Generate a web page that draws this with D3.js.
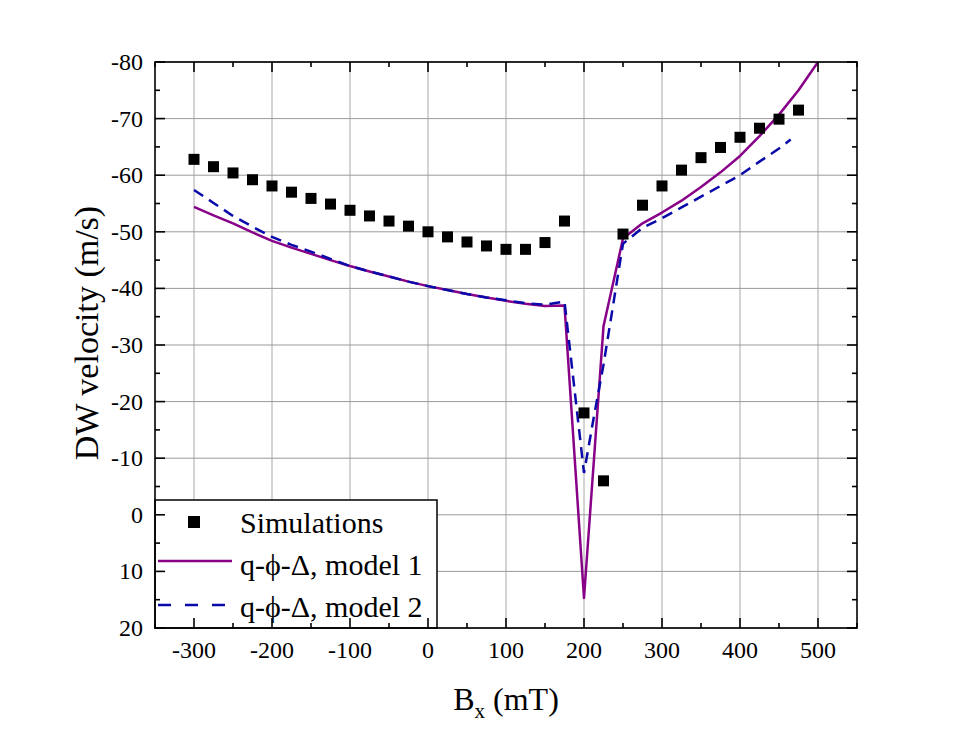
<!DOCTYPE html>
<html>
<head>
<meta charset="utf-8">
<script src="https://cdn.jsdelivr.net/npm/d3@7"></script>
<style>
  body { margin: 0; background: #fff; }
  text, tspan { font-family: "Liberation Serif", "Times New Roman", serif; }
</style>
</head>
<body>
<div id="chart"></div>
<script>
// Simulation points (Bx in mT, velocity in m/s)
const simX = [-300, -275, -250, -225, -200, -175, -150, -125, -100, -75, -50, -25, 0,
  25, 50, 75, 100, 125, 150, 175, 200, 225, 250, 275, 300, 325, 350, 375, 400, 425, 450, 475];
const simV = [-62.8, -61.5, -60.4, -59.2, -58.1, -57.0, -55.9, -54.9, -53.8, -52.8, -51.9, -51.0, -50.0,
  -49.1, -48.2, -47.5, -46.9, -46.9, -48.1, -51.9, -18.0, -6.0, -49.6, -54.7, -58.1, -60.9, -63.1, -64.9, -66.7, -68.3, -69.9, -71.5];

// q-phi-Delta, model 1
const m1X = [-300, -275, -250, -225, -200, -175, -150, -125, -100, -75, -50, -25, 0,
  25, 50, 75, 100, 125, 150, 175, 200, 225, 250, 275, 300, 325, 350, 375, 400, 425, 450, 475, 500];
const m1V = [-54.4, -52.9, -51.5, -49.9, -48.4, -47.2, -46.1, -45.0, -43.95, -43.0, -42.1, -41.2, -40.4,
  -39.7, -39.0, -38.4, -37.8, -37.3, -36.9, -37.0, 14.7, -33.3, -48.8, -51.5, -53.4, -55.5, -57.9, -60.5, -63.4, -66.9, -70.7, -75.0, -80.0];

// q-phi-Delta, model 2
const m2X = [-300, -275, -250, -225, -200, -175, -150, -125, -100, -75, -50, -25, 0,
  25, 50, 75, 100, 125, 150, 175, 200, 212.5, 225, 250, 275, 300, 325, 350, 375, 400, 425, 450, 465];
const m2V = [-57.4, -55.1, -52.8, -50.9, -49.1, -47.7, -46.5, -45.2, -43.95, -43.0, -42.1, -41.2, -40.4,
  -39.7, -39.0, -38.4, -37.9, -37.4, -37.1, -37.7, -7.4, -17.2, -26.5, -47.9, -50.7, -52.4, -54.3, -56.2, -58.1, -60.0, -62.4, -64.7, -66.3];

const xTicks = [-300, -200, -100, 0, 100, 200, 300, 400, 500];
const yTicks = [-80, -70, -60, -50, -40, -30, -20, -10, 0, 10, 20];
const legendLabels = ["Simulations", "q-\u03d5-\u0394, model 1", "q-\u03d5-\u0394, model 2"];

const W = 970, H = 744;
const MARGIN = { TOP: 62, RIGHT: 113, BOTTOM: 116, LEFT: 155 };
const WIDTH = W - MARGIN.LEFT - MARGIN.RIGHT;
const HEIGHT = H - MARGIN.TOP - MARGIN.BOTTOM;

const purple = "#880088";
const blue = "#0a0aaa";

const svg = d3.select("#chart").append("svg")
  .attr("width", W).attr("height", H);

const g = svg.append("g")
  .attr("transform", `translate(${MARGIN.LEFT}, ${MARGIN.TOP})`);

const x = d3.scaleLinear().domain([-350, 550]).range([0, WIDTH]);
const y = d3.scaleLinear().domain([-80, 20]).range([0, HEIGHT]);

// grid
g.append("g").selectAll("line").data(xTicks).join("line")
  .attr("x1", d => x(d)).attr("x2", d => x(d))
  .attr("y1", 0).attr("y2", HEIGHT)
  .attr("stroke", "#bdbdbd").attr("stroke-width", 1.3);
g.append("g").selectAll("line").data(yTicks).join("line")
  .attr("x1", 0).attr("x2", WIDTH)
  .attr("y1", d => y(d)).attr("y2", d => y(d))
  .attr("stroke", "#9a9a9a").attr("stroke-width", 1);

// curves
g.append("defs").append("clipPath").attr("id", "clip")
  .append("rect").attr("width", WIDTH).attr("height", HEIGHT);

const line = d3.line().x(d => x(d[0])).y(d => y(d[1]));
const plot = g.append("g").attr("clip-path", "url(#clip)");

plot.append("path")
  .datum(m1X.map((d, i) => [d, m1V[i]]))
  .attr("d", line)
  .attr("fill", "none").attr("stroke", purple).attr("stroke-width", 2.5)
  .attr("stroke-linejoin", "round");

plot.append("path")
  .datum(m2X.map((d, i) => [d, m2V[i]]))
  .attr("d", line)
  .attr("fill", "none").attr("stroke", blue).attr("stroke-width", 2.5)
  .attr("stroke-dasharray", "11,7");

const sq = 11;
plot.append("g").selectAll("rect").data(simX.map((d, i) => [d, simV[i]])).join("rect")
  .attr("x", d => x(d[0]) - sq / 2)
  .attr("y", d => y(d[1]) - sq / 2)
  .attr("width", sq).attr("height", sq)
  .attr("fill", "#000");

// legend
const lg = g.append("g").attr("transform", `translate(0, ${HEIGHT - 128})`);
lg.append("rect").attr("width", 282).attr("height", 128)
  .attr("fill", "#fff").attr("stroke", "#000").attr("stroke-width", 1.5);
lg.append("rect").attr("x", 39 - 6).attr("y", 22 - 6).attr("width", 12).attr("height", 12).attr("fill", "#000");
lg.append("line").attr("x1", 3).attr("x2", 77).attr("y1", 61).attr("y2", 61)
  .attr("stroke", purple).attr("stroke-width", 2.5);
lg.append("line").attr("x1", 3).attr("x2", 72).attr("y1", 105).attr("y2", 105)
  .attr("stroke", blue).attr("stroke-width", 2.5).attr("stroke-dasharray", "13,14");
lg.selectAll("text.lab").data(legendLabels).join("text")
  .attr("class", "lab")
  .attr("x", 85)
  .attr("y", (d, i) => 33 + i * 42)
  .attr("font-size", 30)
  .text(d => d);

// axes
const xMinor = d3.range(-350, 551, 50);
const yMinor = d3.range(-80, 21, 5);

function tickLen(d, step) { return d % step === 0 ? 10 : 5; }

const frame = g.append("g");
frame.append("rect").attr("width", WIDTH).attr("height", HEIGHT)
  .attr("fill", "none").attr("stroke", "#000").attr("stroke-width", 1.6);

// x ticks bottom and top (inward)
frame.append("g").selectAll("line").data(xMinor).join("line")
  .attr("x1", d => x(d)).attr("x2", d => x(d))
  .attr("y1", HEIGHT).attr("y2", d => HEIGHT - tickLen(d, 100))
  .attr("stroke", "#000").attr("stroke-width", 1.6);
frame.append("g").selectAll("line").data(xMinor).join("line")
  .attr("x1", d => x(d)).attr("x2", d => x(d))
  .attr("y1", 0).attr("y2", d => tickLen(d, 100))
  .attr("stroke", "#000").attr("stroke-width", 1.6);
// y ticks left and right (inward)
frame.append("g").selectAll("line").data(yMinor).join("line")
  .attr("y1", d => y(d)).attr("y2", d => y(d))
  .attr("x1", 0).attr("x2", d => tickLen(d, 10))
  .attr("stroke", "#000").attr("stroke-width", 1.6);
frame.append("g").selectAll("line").data(yMinor).join("line")
  .attr("y1", d => y(d)).attr("y2", d => y(d))
  .attr("x1", WIDTH).attr("x2", d => WIDTH - tickLen(d, 10))
  .attr("stroke", "#000").attr("stroke-width", 1.6);

// tick labels
g.append("g").selectAll("text").data(xTicks).join("text")
  .attr("x", d => x(d)).attr("y", HEIGHT + 30)
  .attr("text-anchor", "middle")
  .attr("font-size", 24)
  .text(d => String(d));
g.append("g").selectAll("text").data(yTicks).join("text")
  .attr("x", -12).attr("y", d => y(d) + 8)
  .attr("text-anchor", "end")
  .attr("font-size", 24)
  .text(d => String(d));

// axis titles
const xt = g.append("text")
  .attr("x", WIDTH / 2).attr("y", HEIGHT + 82)
  .attr("text-anchor", "middle")
  .attr("font-size", 32);
xt.append("tspan").text("B");
xt.append("tspan").attr("dy", 8).attr("font-size", 21).text("x");
xt.append("tspan").attr("dy", -8).text(" (mT)");

g.append("text")
  .attr("transform", `translate(${98 - MARGIN.LEFT}, ${HEIGHT / 2 - 12}) rotate(-90)`)
  .attr("text-anchor", "middle")
  .attr("font-size", 34)
  .text("DW velocity (m/s)");
</script>
</body>
</html>
